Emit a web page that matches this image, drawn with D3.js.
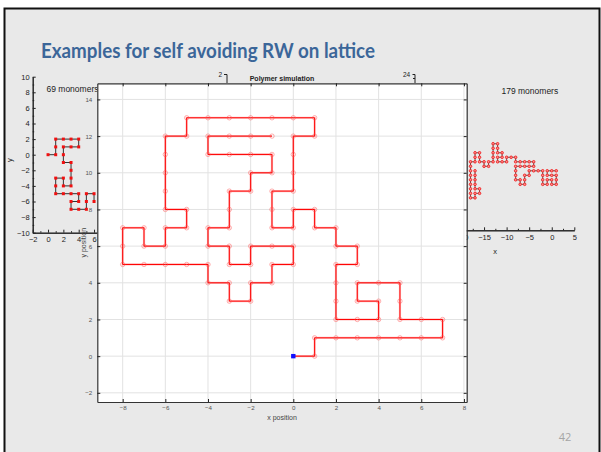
<!DOCTYPE html>
<html>
<head>
<meta charset="utf-8">
<script src="https://cdn.jsdelivr.net/npm/d3@7"></script>
<style>
  body { margin: 0; background: #fff; }
  svg { display: block; }
  text { font-family: "Liberation Sans", Arial, sans-serif; }
</style>
</head>
<body>
<svg id="chart" width="601" height="452"></svg>
<script>
// main walk, lattice positions in order (start at the origin)
const walkX = [0,1,1,2,3,4,5,6,7,7, 6,5,5,5,4,3,3,4,4,3, 2,2,2,2,3,3,2,2,1,1,
    0,0,-1,-1,-1,0,0,0,0,1, 1,0,-1,-2,-3,-4,-5,-5,-6,-6, -6,-6,-6,-5,-5,-6,-6,-7,-7,-8,
    -8,-8,-7,-6,-5,-4,-4,-3,-3,-2, -2,-1,-1,0,0,-1,-2,-2,-3,-3, -4,-4,-3,-3,-3,-2,-2,-1,-1,-2,
    -3,-4,-4,-3,-2,-1];
const walkY = [0,0,1,1,1,1,1,1,1,2, 2,2,3,4,4,4,3,3,2,2, 2,3,4,5,5,6,6,7,7,8,
    8,7,7,8,9,9,10,11,12,12, 13,13,13,13,13,13,13,12,12,11, 10,9,8,8,7,7,6,6,7,7,
    6,5,5,5,5,5,4,4,3,3, 4,4,5,5,6,6,6,5,5,6, 6,7,7,8,9,9,10,10,11,11,
    11,11,12,12,12,12];
const mainXLim = [-9.19, 8.13];
const mainYLim = [-2.5, 14.88];
const mainXTicks = [-8, -6, -4, -2, 0, 2, 4, 6, 8];
const mainYTicks = [-2, 0, 2, 4, 6, 8, 10, 12, 14];

// small figure on the left: 69 monomers (visible part)
const walk69X = [0,1,1,1,2,3,4,4,3,2, 2,2,3,3,3,3,2,2,1,1, 1,2,3,4,4,3,3,4,5,5, 5,6,6];
const walk69Y = [0,0,1,2,2,2,2,1,1,1, 0,-1,-1,-2,-3,-4,-4,-3,-3,-4, -5,-5,-5,-5,-6,-6,-7,-7,-7,-6, -5,-5,-6];
const left69XTicks = [-2, 0, 2, 4, 6, 8, 10];
const left69YTicks = [-10, -8, -6, -4, -2, 0, 2, 4, 6, 8, 10];

// small figure on the right: 179 monomers (visible part)
const walk179X = [1,0,-1,-1,0,1,1,1,0,0, -1,-1,-2,-2,-2,-2,-3,-4,-5,-5,
    -6,-6,-6,-7,-7,-8,-8,-8,-8,-7, -6,-5,-4,-4,-5,-6,-7,-8,-8,-9,
    -10,-10,-11,-12,-12,-11,-11,-12,-12,-12, -13,-13,-13,-13,-13,-14,-14,-15,-15,-16,
    -16,-16,-17,-17,-17,-18,-18,-18,-18,-18, -18,-18,-18,-18,-17,-17,-16,-16,-17,-17,
    -17,-17,-17];
const walk179Y = [0,0,0,-1,-1,-1,-2,-3,-3,-2, -2,-3,-3,-2,-1,0,0,0,0,-1,
    -1,-2,-3,-3,-2,-2,-1,0,1,1, 1,1,1,2,2,2,2,2,3,3,
    3,2,2,2,3,3,4,4,5,6, 6,5,4,3,2,2,1,1,2,2,
    3,4,4,3,2,2,1,0,-1,-2, -3,-4,-5,-6,-6,-5,-5,-4,-4,-3,
    -2,-1,0];
const right179XTicks = [-20, -15, -10, -5, 0, 5];
const right179XMinor = [-17.5, -12.5, -7.5, -2.5, 2.5];

const svg = d3.select('#chart');

// slide background
svg.append('rect')
    .attr('x', 4.5).attr('y', 8.5)
    .attr('width', 595).attr('height', 470)
    .attr('fill', '#e9e9e9')
    .attr('stroke', '#111')
    .attr('stroke-width', 2);

svg.append('text')
    .attr('x', 41).attr('y', 57.5)
    .style('font-family', 'Lato, "Open Sans", sans-serif')
    .attr('font-weight', 'bold')
    .attr('font-size', 21)
    .attr('fill', '#3b6699')
    .attr('textLength', 334)
    .attr('lengthAdjust', 'spacingAndGlyphs')
    .text('Examples for self avoiding RW on lattice');

// ---- left inset (69 monomers) ----
const lx = d3.scaleLinear().domain([-2, 10]).range([32.7, 124.7]);
const ly = d3.scaleLinear().domain([-10, 10]).range([232.7, 76.7]);

const left = svg.append('g');
left.append('g')
    .attr('transform', 'translate(32.7,0)')
    .call(d3.axisLeft(ly).tickValues(left69YTicks).tickSize(-3).tickSizeOuter(0).tickPadding(3))
    .call(g => g.selectAll('text').attr('font-size', 7.5).attr('fill', '#222'));
left.append('g')
    .attr('transform', 'translate(32.7,0)')
    .call(d3.axisLeft(ly).tickValues(d3.range(-9, 10, 2)).tickSize(-1.5).tickSizeOuter(0).tickFormat(''));
left.append('g')
    .attr('transform', 'translate(0,232.7)')
    .call(d3.axisBottom(lx).tickValues(left69XTicks).tickSize(-3).tickSizeOuter(0).tickPadding(4))
    .call(g => g.selectAll('text').attr('font-size', 7.5).attr('fill', '#222'));
left.append('g')
    .attr('transform', 'translate(0,232.7)')
    .call(d3.axisBottom(lx).tickValues(d3.range(-1, 10, 2)).tickSize(-1.5).tickSizeOuter(0).tickFormat(''));
left.selectAll('.domain, .tick line').attr('stroke', '#222');

left.append('path')
    .attr('d', d3.line().x((d, i) => lx(walk69X[i])).y((d, i) => ly(walk69Y[i]))(walk69X))
    .attr('fill', 'none')
    .attr('stroke', '#333')
    .attr('stroke-width', 1);
left.selectAll('rect.m')
    .data(walk69X)
    .enter().append('rect')
    .attr('class', 'm')
    .attr('x', (d, i) => lx(walk69X[i]) - 1.5)
    .attr('y', (d, i) => ly(walk69Y[i]) - 1.5)
    .attr('width', 3).attr('height', 3)
    .attr('fill', '#f01010');

left.append('text')
    .attr('x', 46.5).attr('y', 92)
    .attr('font-size', 8.5).attr('fill', '#222')
    .text('69 monomers');
left.append('text')
    .attr('transform', 'translate(12,160) rotate(-90)')
    .attr('text-anchor', 'middle')
    .attr('font-size', 7.5).attr('fill', '#222')
    .text('y');

// ---- right inset (179 monomers) ----
const rx = d3.scaleLinear().domain([-20, 5]).range([461.5, 574.3]);
const ry = d3.scaleLinear().domain([-13.2, 0]).range([230.3, 170.8]);

const right = svg.append('g');
right.append('g')
    .attr('transform', 'translate(0,230.3)')
    .call(d3.axisBottom(rx).tickValues(right179XTicks).tickSize(-3).tickSizeOuter(0).tickPadding(4))
    .call(g => g.selectAll('text').attr('font-size', 7.5).attr('fill', '#222'));
right.append('g')
    .attr('transform', 'translate(0,230.3)')
    .call(d3.axisBottom(rx).tickValues(right179XMinor).tickSize(-1.5).tickSizeOuter(0).tickFormat(''));
right.selectAll('.domain, .tick line').attr('stroke', '#222');

right.append('path')
    .attr('d', d3.line().x((d, i) => rx(walk179X[i])).y((d, i) => ry(walk179Y[i]))(walk179X))
    .attr('fill', 'none')
    .attr('stroke', '#333')
    .attr('stroke-width', 0.8);
right.selectAll('circle.m')
    .data(walk179X)
    .enter().append('circle')
    .attr('class', 'm')
    .attr('cx', (d, i) => rx(walk179X[i]))
    .attr('cy', (d, i) => ry(walk179Y[i]))
    .attr('r', 1.3)
    .attr('fill', '#ff9090')
    .attr('stroke', '#f01010')
    .attr('stroke-width', 0.8);

right.append('text')
    .attr('x', 501.5).attr('y', 93.5)
    .attr('font-size', 8.5).attr('fill', '#222')
    .text('179 monomers');
right.append('text')
    .attr('x', 495).attr('y', 254)
    .attr('text-anchor', 'middle')
    .attr('font-size', 7.5).attr('fill', '#222')
    .text('x');

// bits of other figures peeking out above the main one
svg.append('text').attr('x', 218.5).attr('y', 77).attr('font-size', 6.5).attr('fill', '#222').text('2');
svg.append('path').attr('d', 'M224,74.5H227V83').attr('fill', 'none').attr('stroke', '#222');
svg.append('text').attr('x', 403).attr('y', 77).attr('font-size', 6.5).attr('fill', '#222').text('24');
svg.append('path').attr('d', 'M412.5,74.5H415V83M413,78.5H415').attr('fill', 'none').attr('stroke', '#222');

// ---- main plot ----
const x = d3.scaleLinear().domain(mainXLim).range([97.3, 466.7]);
const y = d3.scaleLinear().domain(mainYLim).range([402, 83.3]);

const main = svg.append('g');
main.append('rect')
    .attr('x', 97.3).attr('y', 83.3)
    .attr('width', 466.7 - 97.3).attr('height', 402 - 83.3)
    .attr('fill', '#fff');

// grid
main.selectAll('line.gx')
    .data(mainXTicks.filter(t => x(t) < 465))
    .enter().append('line')
    .attr('x1', d => x(d)).attr('x2', d => x(d))
    .attr('y1', 83.3).attr('y2', 402)
    .attr('stroke', '#e2e2e2').attr('stroke-width', 1);
main.selectAll('line.gy')
    .data(mainYTicks)
    .enter().append('line')
    .attr('x1', 97.3).attr('x2', 466.7)
    .attr('y1', d => y(d)).attr('y2', d => y(d))
    .attr('stroke', '#e2e2e2').attr('stroke-width', 1);

main.append('g')
    .attr('transform', 'translate(0,402)')
    .call(d3.axisBottom(x).tickValues(mainXTicks).tickSize(-3).tickSizeOuter(0).tickPadding(4))
    .call(g => g.selectAll('text').attr('font-size', 6.2).attr('fill', '#555'));
main.append('g')
    .attr('transform', 'translate(0,83.3)')
    .call(d3.axisTop(x).tickValues(mainXTicks).tickSize(-3).tickSizeOuter(0).tickFormat(''));
main.append('g')
    .attr('transform', 'translate(97.3,0)')
    .call(d3.axisLeft(y).tickValues(mainYTicks).tickSize(-3).tickSizeOuter(0).tickPadding(5))
    .call(g => g.selectAll('text').attr('font-size', 6.2).attr('fill', '#555'));
main.append('g')
    .attr('transform', 'translate(466.7,0)')
    .call(d3.axisRight(y).tickValues(mainYTicks).tickSize(-3).tickSizeOuter(0).tickFormat(''));
main.selectAll('.domain').attr('stroke', '#333').attr('stroke-width', 1.2);
main.selectAll('.tick line').attr('stroke', '#222');

const walkLine = d3.line().x((d, i) => x(walkX[i])).y((d, i) => y(walkY[i]));
main.append('path')
    .attr('d', walkLine(walkX))
    .attr('fill', 'none')
    .attr('stroke', 'rgba(255,0,0,0.25)')
    .attr('stroke-width', 2.2);
main.append('path')
    .attr('d', walkLine(walkX))
    .attr('fill', 'none')
    .attr('stroke', '#ff0000')
    .attr('stroke-width', 1);
main.selectAll('circle.m')
    .data(walkX.slice(1))
    .enter().append('circle')
    .attr('class', 'm')
    .attr('cx', (d, i) => x(walkX[i + 1]))
    .attr('cy', (d, i) => y(walkY[i + 1]))
    .attr('r', 2.2)
    .attr('fill', 'none')
    .attr('stroke', 'rgba(255,80,80,0.5)')
    .attr('stroke-width', 0.9);
// start of the walk
main.append('rect')
    .attr('x', x(walkX[0]) - 2.2).attr('y', y(walkY[0]) - 2.2)
    .attr('width', 4.4).attr('height', 4.4)
    .attr('fill', '#1010ff');

main.append('text')
    .attr('x', 282).attr('y', 81)
    .attr('text-anchor', 'middle')
    .attr('font-size', 7).attr('font-weight', 'bold').attr('fill', '#222')
    .text('Polymer simulation');
main.append('text')
    .attr('x', 282).attr('y', 419.5)
    .attr('text-anchor', 'middle')
    .attr('font-size', 7).attr('fill', '#444')
    .text('x position');
main.append('text')
    .attr('transform', 'translate(86,242.7) rotate(-90)')
    .attr('text-anchor', 'middle')
    .attr('font-size', 7).attr('fill', '#444')
    .text('y position');

// page number
svg.append('text')
    .attr('x', 565).attr('y', 441)
    .attr('text-anchor', 'middle')
    .style('font-family', '"Open Sans", sans-serif')
    .attr('font-size', 11).attr('fill', '#a5a5a5')
    .text('42');
</script>
</body>
</html>
